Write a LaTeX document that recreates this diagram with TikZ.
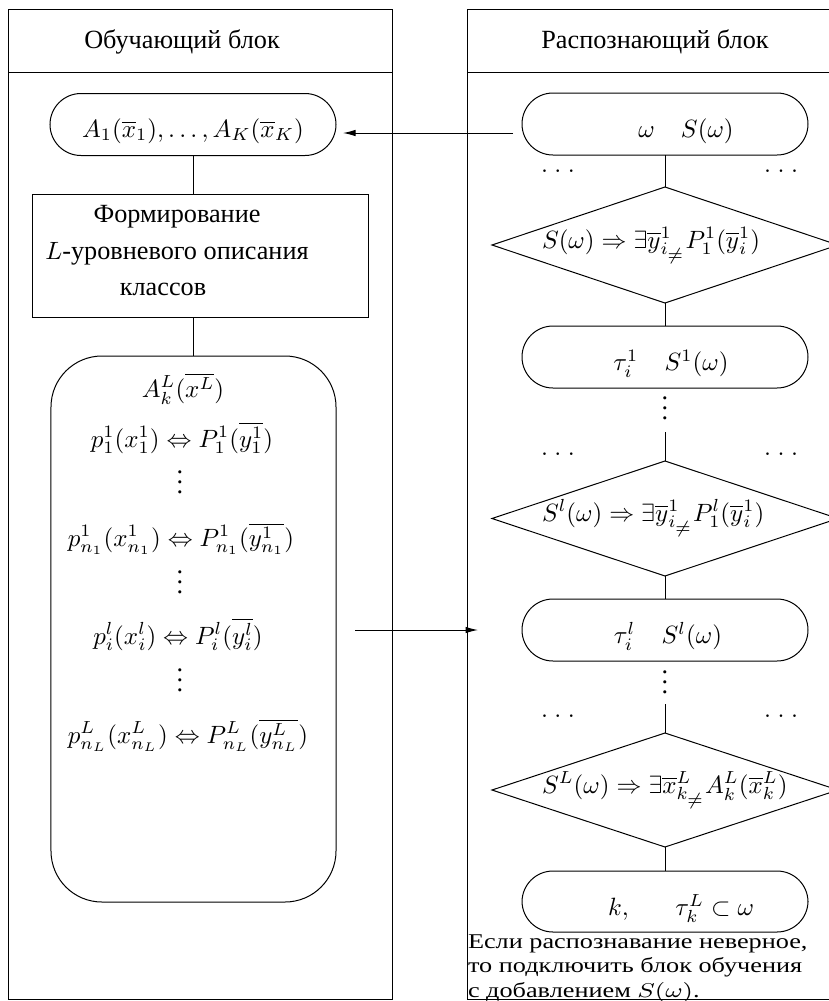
\documentclass[tikz,border=0pt]{standalone}
\usepackage{fontspec}
\setmainfont{Liberation Serif}[Scale=1.05]
\usepackage{graphicx}
\usetikzlibrary{arrows.meta,shapes.geometric}
\begin{document}
\begin{tikzpicture}[x=0.4pt,y=-0.4pt,
  every node/.style={inner sep=0pt, outer sep=0pt},
  lane/.style={draw, rectangle, minimum width=153.2pt, minimum height=395.6pt},
  stadium/.style={draw, rectangle, rounded corners=12.4pt, minimum width=114.4pt, minimum height=24.8pt, text height=11pt, text depth=0pt},
  formbox/.style={draw, rectangle, minimum width=134pt, minimum height=49.2pt},
  bigbox/.style={draw, rectangle, rounded corners=20.4pt, minimum width=114pt, minimum height=218.4pt},
  decision/.style={draw, diamond, minimum width=138.4pt},
  arr/.style={-{Latex[length=5pt,width=2.6pt]}},
  hdr/.style={anchor=base},
  fml/.style={anchor=base},
  dts/.style={anchor=base}
]
\useasboundingbox (0,0) rectangle (828,1001);
% lanes
\node[lane] (laneL) at (200.5,504.5) {};
\node[lane] (laneR) at (658.5,504.5) {};
\draw (laneL.west |- 0,72) -- (laneL.east |- 0,72);
\draw (laneR.west |- 0,72) -- (laneR.east |- 0,72);
\node[hdr] (h1) at (182,48) {Обучающий блок};
\node[hdr] (h2) at (655,48) {Распознающий блок};
% left column
\node[stadium, text height=10pt] (a1) at (193,124.5) {$A_1(\overline{x}_1),\ldots,A_K(\overline{x}_K)$};
\node[formbox] (form) at (200.5,255.5) {};
\node[align=center, font=\fontsize{10}{14.6}\selectfont] (formt) at (177,251) {Формирование\\$L$-уровневого описания\\\hspace*{-11.2pt}классов};
\node[bigbox] (big) at (193.5,629) {};
\node[fml] (t0) at (183,397) {$A^L_k(\overline{x^L})$};
\node[fml] (t1) at (182,447) {$p^1_1(x^1_1)\Leftrightarrow P^1_1(\overline{y^1_1})$};
\node[fml] (v1) at (180,493) {$\vdots$};
\node[fml] (t2) at (181,546) {$p^1_{n_1}(x^1_{n_1})\Leftrightarrow P^1_{n_1}(\overline{y^1_{n_1}})$};
\node[fml] (v2) at (180,593) {$\vdots$};
\node[fml] (t3) at (178,644) {$p^l_i(x^l_i)\Leftrightarrow P^l_i(\overline{y^l_i})$};
\node[fml] (v3) at (180,691) {$\vdots$};
\node[fml] (t4) at (188,743) {$p^L_{n_L}(x^L_{n_L})\Leftrightarrow P^L_{n_L}(\overline{y^L_{n_L}})$};
\draw (a1.south) -- (a1.south |- form.north);
\draw (a1.south |- form.south) -- (a1.south |- big.north);
% right column
\node[stadium] (r1) at (665,124) {\hspace*{16.8pt}$\omega\quad S(\omega)$};
\node[dts] (p1l) at (558,172) {$.\ .\ .$};
\node[dts] (p1r) at (781,172) {$.\ .\ .$};
\node[decision, minimum height=46.4pt] (d1) at (665,245) {};
\node[anchor=base west] (d1t) at (542,248) {$S(\omega)\Rightarrow\exists\overline{y}^1_{i_{\scriptstyle\neq}}P^1_1(\overline{y}^1_i)$};
\node[stadium] (r2) at (665,357) {\hspace*{4.8pt}$\tau^1_i\quad S^1(\omega)$};
\node[fml] (rv1) at (665,419) {$\vdots$};
\coordinate (c2) at (665,432);
\node[dts] (p2l) at (558,455) {$.\ .\ .$};
\node[dts] (p2r) at (781,455) {$.\ .\ .$};
\node[decision, minimum height=46pt] (d2) at (665,518.5) {};
\node[anchor=base west] (d2t) at (542,521) {$S^l(\omega)\Rightarrow\exists\overline{y}^1_{i_{\scriptstyle\neq}}P^l_1(\overline{y}^1_i)$};
\node[stadium] (r3) at (665,630) {\hspace*{2.4pt}$\tau^l_i\quad S^l(\omega)$};
\node[fml] (rv2) at (665,693) {$\vdots$};
\coordinate (c3) at (665,704);
\node[dts] (p3l) at (558,717) {$.\ .\ .$};
\node[dts] (p3r) at (781,717) {$.\ .\ .$};
\node[decision, minimum height=45.6pt] (d3) at (665,790) {};
\node[anchor=base west] (d3t) at (542,793) {$S^L(\omega)\Rightarrow\exists\overline{x}^L_{k_{\scriptstyle\neq}}A^L_k(\overline{x}^L_k)$};
\node[stadium, minimum height=24.4pt] (r4) at (665,901.5) {\hspace*{12.8pt}$k,\hspace{17pt}\tau^L_k\subset\omega$};
\node[anchor=base west] (note) at (468,948) {\scalebox{1.25}[1]{\fontsize{8}{9.8}\selectfont\begin{tabular}[t]{@{}l@{}}Если распознавание неверное,\\то подключить блок обучения\\с добавлением $S(\omega)$.\end{tabular}}};
\draw (r1.south) -- (d1.north);
\draw (d1.south) -- (r2.north);
\draw (c2) -- (d2.north);
\draw (d2.south) -- (r3.north);
\draw (c3) -- (d3.north);
\draw (d3.south) -- (r4.north);
% arrows
\coordinate (s1) at (513,133);
\coordinate (e1) at (343,133);
\draw[arr] (s1) -- (e1);
\coordinate (s2) at (355,630);
\coordinate (e2) at (478,630);
\draw[arr] (s2) -- (e2);
\end{tikzpicture}
\end{document}
